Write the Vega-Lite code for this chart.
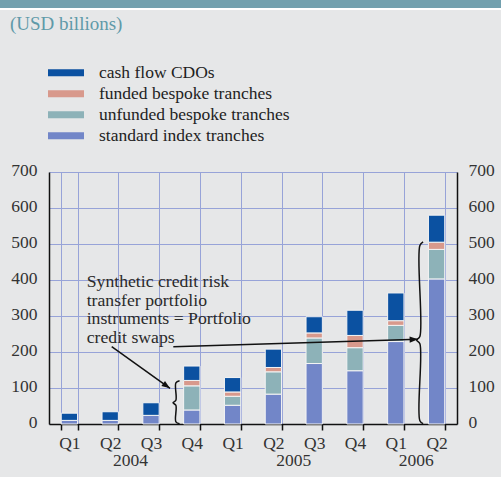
{
  "$schema": "https://vega.github.io/schema/vega-lite/v6.json",
  "width": 408,
  "height": 252,
  "autosize": "none",
  "padding": {"left": 49, "top": 172, "right": 44, "bottom": 53},
  "background": "#e6e7e8",
  "config": {"view": {"stroke": null}, "font": "Liberation Serif"},
  "title": {
    "text": "(USD billions)",
    "anchor": "start",
    "frame": "group",
    "dx": -39,
    "offset": -57,
    "baseline": "bottom",
    "font": "Liberation Serif",
    "fontSize": 19,
    "fontWeight": "normal",
    "color": "#5f9aa9"
  },
  "layer": [
    {
      "data": {"values": [{"x1": -1.4, "x2": 11.3, "y1": 1152.8, "y2": 1185}]},
      "mark": {"type": "rect", "fill": "#72a0ae", "stroke": "#ffffff", "strokeWidth": 2, "clip": false},
      "encoding": {
        "x": {"field": "x1", "type": "quantitative", "scale": {"domain": [0, 10], "nice": false, "zero": false}, "axis": null},
        "x2": {"field": "x2"},
        "y": {"field": "y1", "type": "quantitative", "axis": null},
        "y2": {"field": "y2"}
      }
    },
    {
      "data": {
        "values": [
          {"quarter": "2004 Q1", "series": "standard index tranches", "value": 10},
          {"quarter": "2004 Q1", "series": "cash flow CDOs", "value": 20},
          {"quarter": "2004 Q2", "series": "standard index tranches", "value": 10},
          {"quarter": "2004 Q2", "series": "cash flow CDOs", "value": 24},
          {"quarter": "2004 Q3", "series": "standard index tranches", "value": 24},
          {"quarter": "2004 Q3", "series": "cash flow CDOs", "value": 35},
          {"quarter": "2004 Q4", "series": "standard index tranches", "value": 39},
          {"quarter": "2004 Q4", "series": "unfunded bespoke tranches", "value": 67},
          {"quarter": "2004 Q4", "series": "funded bespoke tranches", "value": 15},
          {"quarter": "2004 Q4", "series": "cash flow CDOs", "value": 40},
          {"quarter": "2005 Q1", "series": "standard index tranches", "value": 52},
          {"quarter": "2005 Q1", "series": "unfunded bespoke tranches", "value": 25},
          {"quarter": "2005 Q1", "series": "funded bespoke tranches", "value": 12},
          {"quarter": "2005 Q1", "series": "cash flow CDOs", "value": 40},
          {"quarter": "2005 Q2", "series": "standard index tranches", "value": 83},
          {"quarter": "2005 Q2", "series": "unfunded bespoke tranches", "value": 62},
          {"quarter": "2005 Q2", "series": "funded bespoke tranches", "value": 12},
          {"quarter": "2005 Q2", "series": "cash flow CDOs", "value": 51},
          {"quarter": "2005 Q3", "series": "standard index tranches", "value": 168},
          {"quarter": "2005 Q3", "series": "unfunded bespoke tranches", "value": 71},
          {"quarter": "2005 Q3", "series": "funded bespoke tranches", "value": 14},
          {"quarter": "2005 Q3", "series": "cash flow CDOs", "value": 45},
          {"quarter": "2005 Q4", "series": "standard index tranches", "value": 148},
          {"quarter": "2005 Q4", "series": "unfunded bespoke tranches", "value": 64},
          {"quarter": "2005 Q4", "series": "funded bespoke tranches", "value": 34},
          {"quarter": "2005 Q4", "series": "cash flow CDOs", "value": 70},
          {"quarter": "2006 Q1", "series": "standard index tranches", "value": 229},
          {"quarter": "2006 Q1", "series": "unfunded bespoke tranches", "value": 45},
          {"quarter": "2006 Q1", "series": "funded bespoke tranches", "value": 13},
          {"quarter": "2006 Q1", "series": "cash flow CDOs", "value": 77},
          {"quarter": "2006 Q2", "series": "standard index tranches", "value": 403},
          {"quarter": "2006 Q2", "series": "unfunded bespoke tranches", "value": 82},
          {"quarter": "2006 Q2", "series": "funded bespoke tranches", "value": 20},
          {"quarter": "2006 Q2", "series": "cash flow CDOs", "value": 75}
        ]
      },
      "transform": [
        {"calculate": "indexof(['standard index tranches','unfunded bespoke tranches','funded bespoke tranches','cash flow CDOs'], datum.series)", "as": "rank"}
      ],
      "mark": {"type": "bar", "stroke": "#f4f4f4", "strokeWidth": 1},
      "encoding": {
        "x": {
          "field": "quarter",
          "type": "nominal",
          "sort": null,
          "scale": {"paddingInner": 0.6, "paddingOuter": 0.3},
          "axis": {
            "title": null,
            "labelExpr": "split(datum.label, ' ')[1]",
            "labelAngle": 0,
            "tickBand": "extent",
            "grid": true,
            "gridColor": "#97a3d8",
            "gridWidth": 1,
            "domainColor": "#111111",
            "domainWidth": 1.5,
            "tickColor": "#111111",
            "tickWidth": 1.5,
            "tickSize": 6,
            "labelPadding": 4,
            "labelFont": "Liberation Serif",
            "labelFontSize": 17.5,
            "labelColor": "#333333"
          }
        },
        "y": {
          "field": "value",
          "type": "quantitative",
          "stack": "zero",
          "scale": {"domain": [0, 700], "nice": false},
          "axis": {
            "title": null,
            "orient": "left",
            "values": [0, 100, 200, 300, 400, 500, 600, 700],
            "grid": true,
            "gridColor": "#97a3d8",
            "gridWidth": 1,
            "tickSize": 0,
            "domainColor": "#111111",
            "domainWidth": 1.5,
            "labelPadding": 12,
            "labelOffset": -2,
            "labelFont": "Liberation Serif",
            "labelFontSize": 17.5,
            "labelColor": "#333333"
          }
        },
        "color": {
          "field": "series",
          "type": "nominal",
          "scale": {
            "domain": ["standard index tranches", "unfunded bespoke tranches", "funded bespoke tranches", "cash flow CDOs"],
            "range": ["#7286c8", "#8db2b8", "#d8998c", "#0b51a1"]
          },
          "legend": {
            "orient": "none",
            "legendX": -1,
            "legendY": -108,
            "title": null,
            "values": ["cash flow CDOs", "funded bespoke tranches", "unfunded bespoke tranches", "standard index tranches"],
            "symbolType": "M-1,-0.2H1V0.2H-1Z",
            "symbolSize": 1296,
            "symbolStrokeWidth": 0,
            "symbolOpacity": 1,
            "labelFont": "Liberation Serif",
            "labelFontSize": 17.5,
            "labelColor": "#222222",
            "labelOffset": 15,
            "labelLimit": 400,
            "clipHeight": 17.5,
            "rowPadding": 2
          }
        },
        "order": {"field": "rank", "type": "quantitative"}
      }
    },
    {
      "data": {
        "values": [
          {"brace": "a", "i": 0, "ax": 3.2, "v": 120},
          {"brace": "a", "i": 1, "ax": 3.11, "v": 114},
          {"brace": "a", "i": 2, "ax": 3.11, "v": 66},
          {"brace": "a", "i": 3, "ax": 3.04, "v": 59},
          {"brace": "a", "i": 4, "ax": 3.11, "v": 52},
          {"brace": "a", "i": 5, "ax": 3.11, "v": 6},
          {"brace": "a", "i": 6, "ax": 3.2, "v": 1},
          {"brace": "b", "i": 0, "ax": 9.17, "v": 506},
          {"brace": "b", "i": 1, "ax": 9.09, "v": 496},
          {"brace": "b", "i": 2, "ax": 9.09, "v": 243},
          {"brace": "b", "i": 3, "ax": 9.01, "v": 233},
          {"brace": "b", "i": 4, "ax": 9.09, "v": 223},
          {"brace": "b", "i": 5, "ax": 9.09, "v": 9},
          {"brace": "b", "i": 6, "ax": 9.17, "v": 1}
        ]
      },
      "mark": {"type": "line", "interpolate": "catmull-rom", "color": "#111111", "strokeWidth": 1.5, "clip": false},
      "encoding": {
        "x": {"field": "ax", "type": "quantitative", "scale": {"domain": [0, 10], "nice": false, "zero": false}, "axis": null},
        "y": {
          "field": "v",
          "type": "quantitative",
          "axis": {
            "title": null,
            "orient": "right",
            "values": [0, 100, 200, 300, 400, 500, 600, 700],
            "grid": false,
            "tickSize": 0,
            "domainColor": "#111111",
            "domainWidth": 1.5,
            "labelPadding": 11,
            "labelOffset": -2,
            "labelFont": "Liberation Serif",
            "labelFontSize": 17.5,
            "labelColor": "#333333"
          }
        },
        "detail": {"field": "brace"},
        "order": {"field": "i", "type": "quantitative"}
      }
    },
    {
      "data": {
        "values": [
          {"arrow": "a", "ax": 1.537, "v": 214.7},
          {"arrow": "a", "ax": 2.966, "v": 99.2},
          {"arrow": "b", "ax": 3.047, "v": 214.7},
          {"arrow": "b", "ax": 9.044, "v": 235.3}
        ]
      },
      "mark": {"type": "line", "color": "#111111", "strokeWidth": 1.5, "clip": false},
      "encoding": {
        "x": {"field": "ax", "type": "quantitative", "scale": {"domain": [0, 10], "nice": false, "zero": false}, "axis": null},
        "y": {"field": "v", "type": "quantitative", "axis": null},
        "detail": {"field": "arrow"}
      }
    },
    {
      "data": {"values": [{"ax": 2.966, "v": 99.2}]},
      "mark": {"type": "point", "shape": "M0,0L-2,-0.75L-2,0.75Z", "filled": true, "color": "#111111", "opacity": 1, "size": 70, "angle": 35.5, "clip": false},
      "encoding": {
        "x": {"field": "ax", "type": "quantitative", "scale": {"domain": [0, 10], "nice": false, "zero": false}, "axis": null},
        "y": {"field": "v", "type": "quantitative", "axis": null}
      }
    },
    {
      "data": {"values": [{"ax": 9.044, "v": 235.3}]},
      "mark": {"type": "point", "shape": "M0,0L-2,-0.75L-2,0.75Z", "filled": true, "color": "#111111", "opacity": 1, "size": 70, "angle": -1.7, "clip": false},
      "encoding": {
        "x": {"field": "ax", "type": "quantitative", "scale": {"domain": [0, 10], "nice": false, "zero": false}, "axis": null},
        "y": {"field": "v", "type": "quantitative", "axis": null}
      }
    },
    {
      "data": {"values": [{"ax": 0.924, "v": 381, "label": "Synthetic credit risk\ntransfer portfolio\ninstruments = Portfolio\ncredit swaps"}]},
      "mark": {"type": "text", "align": "left", "baseline": "alphabetic", "lineBreak": "\n", "lineHeight": 18.7, "font": "Liberation Serif", "fontSize": 17.7, "color": "#2a2a2a", "clip": false},
      "encoding": {
        "x": {"field": "ax", "type": "quantitative", "scale": {"domain": [0, 10], "nice": false, "zero": false}, "axis": null},
        "y": {"field": "v", "type": "quantitative", "axis": null},
        "text": {"field": "label"}
      }
    },
    {
      "data": {"values": [{"ax": 2, "v": -116, "label": "2004"}, {"ax": 6, "v": -116, "label": "2005"}, {"ax": 9, "v": -116, "label": "2006"}]},
      "mark": {"type": "text", "align": "center", "baseline": "alphabetic", "font": "Liberation Serif", "fontSize": 17.5, "color": "#333333", "clip": false},
      "encoding": {
        "x": {"field": "ax", "type": "quantitative", "scale": {"domain": [0, 10], "nice": false, "zero": false}, "axis": null},
        "y": {"field": "v", "type": "quantitative", "axis": null},
        "text": {"field": "label"}
      }
    }
  ],
  "resolve": {"scale": {"x": "independent"}, "axis": {"x": "independent", "y": "independent"}}
}
